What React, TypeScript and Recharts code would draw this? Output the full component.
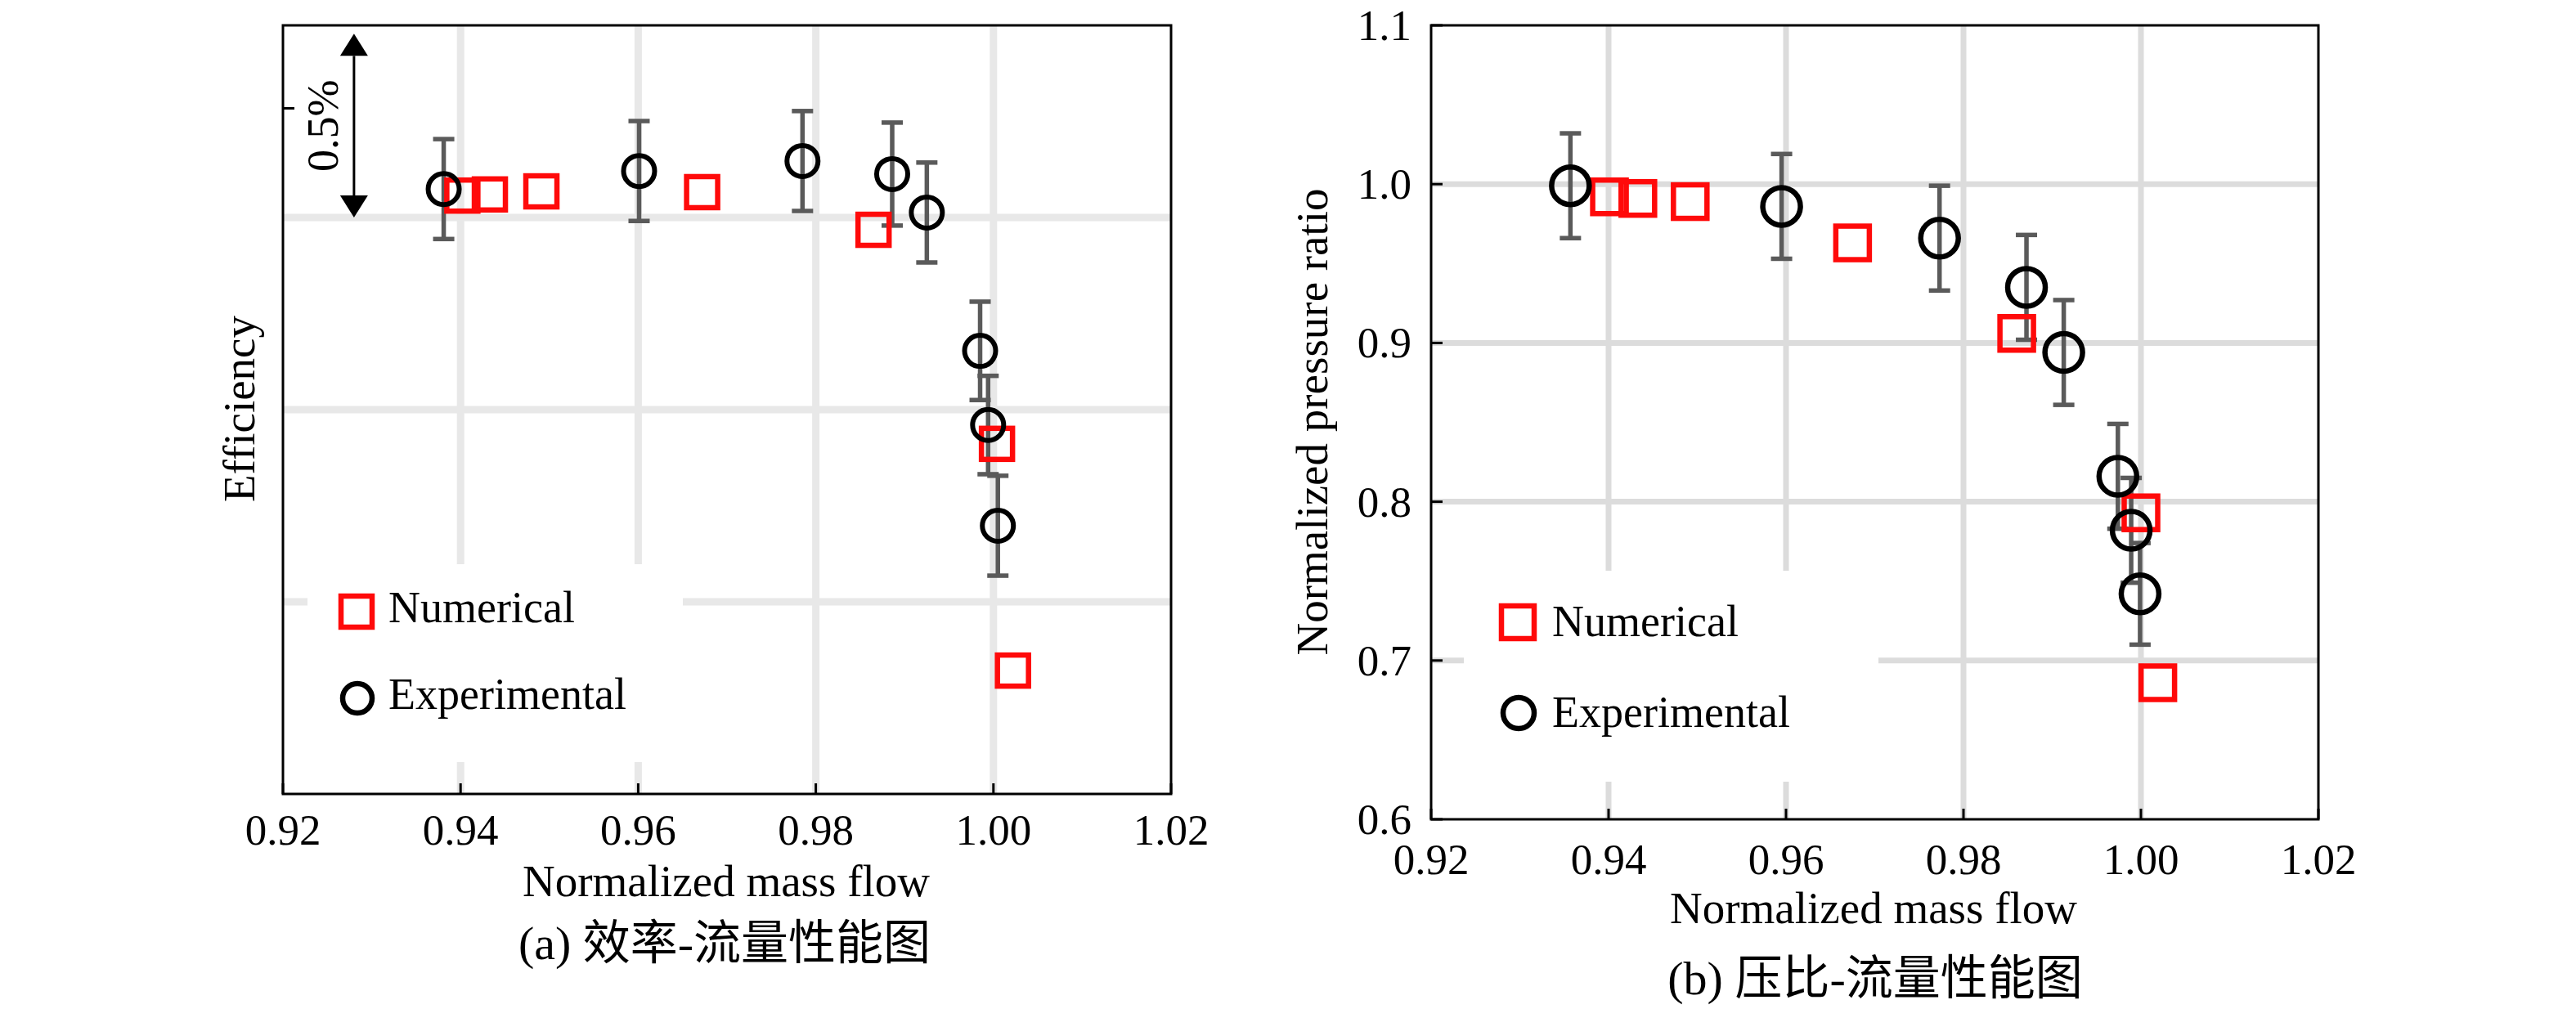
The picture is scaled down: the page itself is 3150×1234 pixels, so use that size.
import React from 'react';
import {
  ScatterChart,
  Scatter,
  XAxis,
  YAxis,
  CartesianGrid,
  ErrorBar,
  ReferenceArea,
  ReferenceLine,
  Legend,
} from 'recharts';

const FONT = "'Liberation Serif', 'Times New Roman', serif";
const CJK_FONT = "'Liberation Serif', 'Noto Sans CJK SC', serif";

const seriesNames = ['Numerical', 'Experimental'];

// shared mass flow axis
const flowTicks = [0.92, 0.94, 0.96, 0.98, 1.0, 1.02];
const flowGrid = [0.94, 0.96, 0.98, 1.0];

// (a) efficiency, relative scale in % (absolute values hidden in the source)
const effNumX = [0.9402, 0.9433, 0.9491, 0.9672, 0.9865, 1.0004, 1.0022];
const effNumY = [0.057, 0.06, 0.068, 0.066, -0.032, -0.589, -1.179];
const effExpX = [0.9381, 0.9601, 0.9785, 0.9886, 0.9925, 0.9985, 0.9994, 1.0005];
const effExpY = [0.074, 0.121, 0.147, 0.113, 0.013, -0.347, -0.54, -0.802];
const effExpErr = [0.13, 0.13, 0.13, 0.134, 0.13, 0.128, 0.128, 0.13];
const effDomain = [-1.5, 0.5];
const effGrid = [-1.0, -0.5, 0];
const effTicks = [0.284];
const effArrowX = 0.928;
const effArrowSpan = [0, 0.478];

// (b) pressure ratio
const prNumX = [0.9401, 0.9433, 0.9492, 0.9675, 0.986, 1.0, 1.0019];
const prNumY = [0.992, 0.991, 0.989, 0.963, 0.906, 0.793, 0.686];
const prExpX = [0.9357, 0.9595, 0.9773, 0.9871, 0.9913, 0.9974, 0.9989, 0.9999];
const prExpY = [0.999, 0.986, 0.966, 0.935, 0.894, 0.816, 0.782, 0.742];
const prExpErr = [0.033, 0.033, 0.033, 0.033, 0.033, 0.033, 0.033, 0.032];
const prDomain = [0.6, 1.1];
const prTicks = [0.6, 0.7, 0.8, 0.9, 1.0, 1.1];
const prGrid = [0.7, 0.8, 0.9, 1.0];

const zip = (xs: number[], ys: number[], errs?: number[]) =>
  xs.map((x, i) => ({ x, y: ys[i], err: errs ? errs[i] : 0 }));

const RED = '#ff0a0a';
const ERR = '#5a5a5a';

const squareShape = (size: number, sw: number) => (p: any) => (
  <rect
    x={p.cx - size / 2}
    y={p.cy - size / 2}
    width={size}
    height={size}
    fill="none"
    stroke={RED}
    strokeWidth={sw}
  />
);

const circleShape = (r: number, sw: number) => (p: any) => (
  <circle cx={p.cx} cy={p.cy} r={r} fill="none" stroke="#000" strokeWidth={sw} />
);

const XTick = (p: any) => {
  const { x, y, payload, dy } = p;
  return (
    <g>
      <line x1={x} x2={x} y1={y} y2={y - 13} stroke="#000" strokeWidth={3} />
      <text x={x} y={y + dy} textAnchor="middle" fontSize={53} fontFamily={FONT} fill="#000">
        {Number(payload.value).toFixed(2)}
      </text>
    </g>
  );
};

const YTick = (p: any) => {
  const { x, y, payload, showLabel } = p;
  return (
    <g>
      <line x1={x} x2={x + 14} y1={y} y2={y} stroke="#000" strokeWidth={3} />
      {showLabel && (
        <text x={x - 24} y={y + 18} textAnchor="end" fontSize={53} fontFamily={FONT} fill="#000">
          {Number(payload.value).toFixed(1)}
        </text>
      )}
    </g>
  );
};

const ArrowShape = (p: any) => {
  const { x1, y1, y2 } = p;
  const top = Math.min(y1, y2);
  const bot = Math.max(y1, y2);
  const head = 27;
  const half = 17;
  return (
    <g>
      <line x1={x1} x2={x1} y1={top + head} y2={bot - head} stroke="#000" strokeWidth={3} />
      <polygon points={`${x1},${top} ${x1 - half},${top + head} ${x1 + half},${top + head}`} fill="#000" />
      <polygon points={`${x1},${bot} ${x1 - half},${bot - head} ${x1 + half},${bot - head}`} fill="#000" />
      <text
        transform={`translate(${x1 - 20},${(top + bot) / 2}) rotate(-90)`}
        textAnchor="middle"
        fontSize={54}
        fontFamily={FONT}
        fill="#000"
      >
        0.5%
      </text>
    </g>
  );
};

const LegendBox = ({ w, h, sq, cx0, tx, row1, row2, base }: any) => (
  <svg width={w} height={h} style={{ display: 'block' }}>
    <rect x={cx0 - sq / 2} y={row1 - sq / 2} width={sq} height={sq} fill="none" stroke={RED} strokeWidth={6.5} />
    <text x={tx} y={row1 + base} fontSize={54} fontFamily={FONT} fill="#000">
      {seriesNames[0]}
    </text>
    <circle cx={cx0 + 1} cy={row2} r={sq / 2 - 1} fill="none" stroke="#000" strokeWidth={6.5} />
    <text x={tx} y={row2 + base} fontSize={54} fontFamily={FONT} fill="#000">
      {seriesNames[1]}
    </text>
  </svg>
);

function EfficiencyChart() {
  return (
    <ScatterChart width={1500} height={1234} margin={{ top: 31, right: 68, bottom: 262, left: 345 }}>
      <CartesianGrid
        stroke="#e8e8e8"
        strokeWidth={9}
        verticalValues={flowGrid}
        horizontalValues={effGrid}
      />
      <XAxis
        type="number"
        dataKey="x"
        domain={[0.92, 1.02]}
        ticks={flowTicks}
        interval={0}
        height={1}
        tickSize={0}
        tickMargin={0}
        axisLine={false}
        tickLine={false}
        allowDataOverflow
        tick={(p: any) => <XTick {...p} dy={62} />}
      />
      <YAxis
        type="number"
        dataKey="y"
        domain={effDomain}
        ticks={effTicks}
        interval={0}
        width={1}
        tickSize={0}
        tickMargin={0}
        axisLine={false}
        tickLine={false}
        allowDataOverflow
        tick={(p: any) => <YTick {...p} showLabel={false} />}
      />
      <ReferenceArea
        x1={0.92}
        x2={1.02}
        y1={effDomain[0]}
        y2={effDomain[1]}
        fill="none"
        fillOpacity={0}
        stroke="#000"
        strokeWidth={3}
        strokeOpacity={1}
      />
      <ReferenceLine
        segment={[
          { x: effArrowX, y: effArrowSpan[1] },
          { x: effArrowX, y: effArrowSpan[0] },
        ]}
        shape={ArrowShape}
      />
      <Scatter
        name={seriesNames[0]}
        data={zip(effNumX, effNumY)}
        shape={squareShape(38, 6.5)}
        isAnimationActive={false}
      />
      <Scatter
        name={seriesNames[1]}
        data={zip(effExpX, effExpY, effExpErr)}
        shape={circleShape(19, 6)}
        isAnimationActive={false}
      >
        <ErrorBar dataKey="err" direction="y" width={13} strokeWidth={5.5} stroke={ERR} />
      </Scatter>
      <Legend
        align="center"
        verticalAlign="middle"
        wrapperStyle={{ left: 376, top: 690, width: 459, height: 242, background: '#fff' }}
        content={() => (
          <LegendBox w={459} h={242} sq={38} cx0={60} tx={99} row1={58} row2={164} base={13} />
        )}
      />
    </ScatterChart>
  );
}

function PressureChart() {
  return (
    <ScatterChart width={1600} height={1234} margin={{ top: 31, right: 265, bottom: 231, left: 249 }}>
      <CartesianGrid
        stroke="#dcdcdc"
        strokeWidth={7}
        verticalValues={flowGrid}
        horizontalValues={prGrid}
      />
      <XAxis
        type="number"
        dataKey="x"
        domain={[0.92, 1.02]}
        ticks={flowTicks}
        interval={0}
        height={1}
        tickSize={0}
        tickMargin={0}
        axisLine={false}
        tickLine={false}
        allowDataOverflow
        tick={(p: any) => <XTick {...p} dy={67} />}
      />
      <YAxis
        type="number"
        dataKey="y"
        domain={prDomain}
        ticks={prTicks}
        interval={0}
        width={1}
        tickSize={0}
        tickMargin={0}
        axisLine={false}
        tickLine={false}
        allowDataOverflow
        tick={(p: any) => <YTick {...p} showLabel />}
      />
      <ReferenceArea
        x1={0.92}
        x2={1.02}
        y1={prDomain[0]}
        y2={prDomain[1]}
        fill="none"
        fillOpacity={0}
        stroke="#000"
        strokeWidth={3}
        strokeOpacity={1}
      />
      <Scatter
        name={seriesNames[0]}
        data={zip(prNumX, prNumY)}
        shape={squareShape(41, 6.5)}
        isAnimationActive={false}
      />
      <Scatter
        name={seriesNames[1]}
        data={zip(prExpX, prExpY, prExpErr)}
        shape={circleShape(23, 6.5)}
        isAnimationActive={false}
      >
        <ErrorBar dataKey="err" direction="y" width={13} strokeWidth={5.5} stroke={ERR} />
      </Scatter>
      <Legend
        align="center"
        verticalAlign="middle"
        wrapperStyle={{ left: 290, top: 698, width: 507, height: 258, background: '#fff' }}
        content={() => (
          <LegendBox w={507} h={258} sq={40} cx0={66} tx={108} row1={63} row2={174} base={17} />
        )}
      />
    </ScatterChart>
  );
}

export default function App() {
  return (
    <div style={{ position: 'absolute', left: 0, top: 0, width: 3150, height: 1234, background: '#fff' }}>
      <div style={{ position: 'absolute', left: 0, top: 0 }}>
        <EfficiencyChart />
      </div>
      <div style={{ position: 'absolute', left: 1500, top: 0 }}>
        <PressureChart />
      </div>
      <svg
        width={3150}
        height={1234}
        style={{ position: 'absolute', left: 0, top: 0, pointerEvents: 'none' }}
      >
        <g fontFamily={FONT} fill="#000">
          <text transform="translate(311,500) rotate(-90)" textAnchor="middle" fontSize={55}>
            Efficiency
          </text>
          <text transform="translate(1623,516) rotate(-90)" textAnchor="middle" fontSize={55}>
            Normalized pressure ratio
          </text>
          <text x={888} y={1096} textAnchor="middle" fontSize={55}>
            Normalized mass flow
          </text>
          <text x={2291} y={1129} textAnchor="middle" fontSize={55}>
            Normalized mass flow
          </text>
        </g>
        <g fontFamily={CJK_FONT} fill="#000">
          <text x={886} y={1173} textAnchor="middle" fontSize={58}>
            (a) 效率-流量性能图
          </text>
          <text x={2293} y={1216} textAnchor="middle" fontSize={58}>
            (b) 压比-流量性能图
          </text>
        </g>
      </svg>
    </div>
  );
}
